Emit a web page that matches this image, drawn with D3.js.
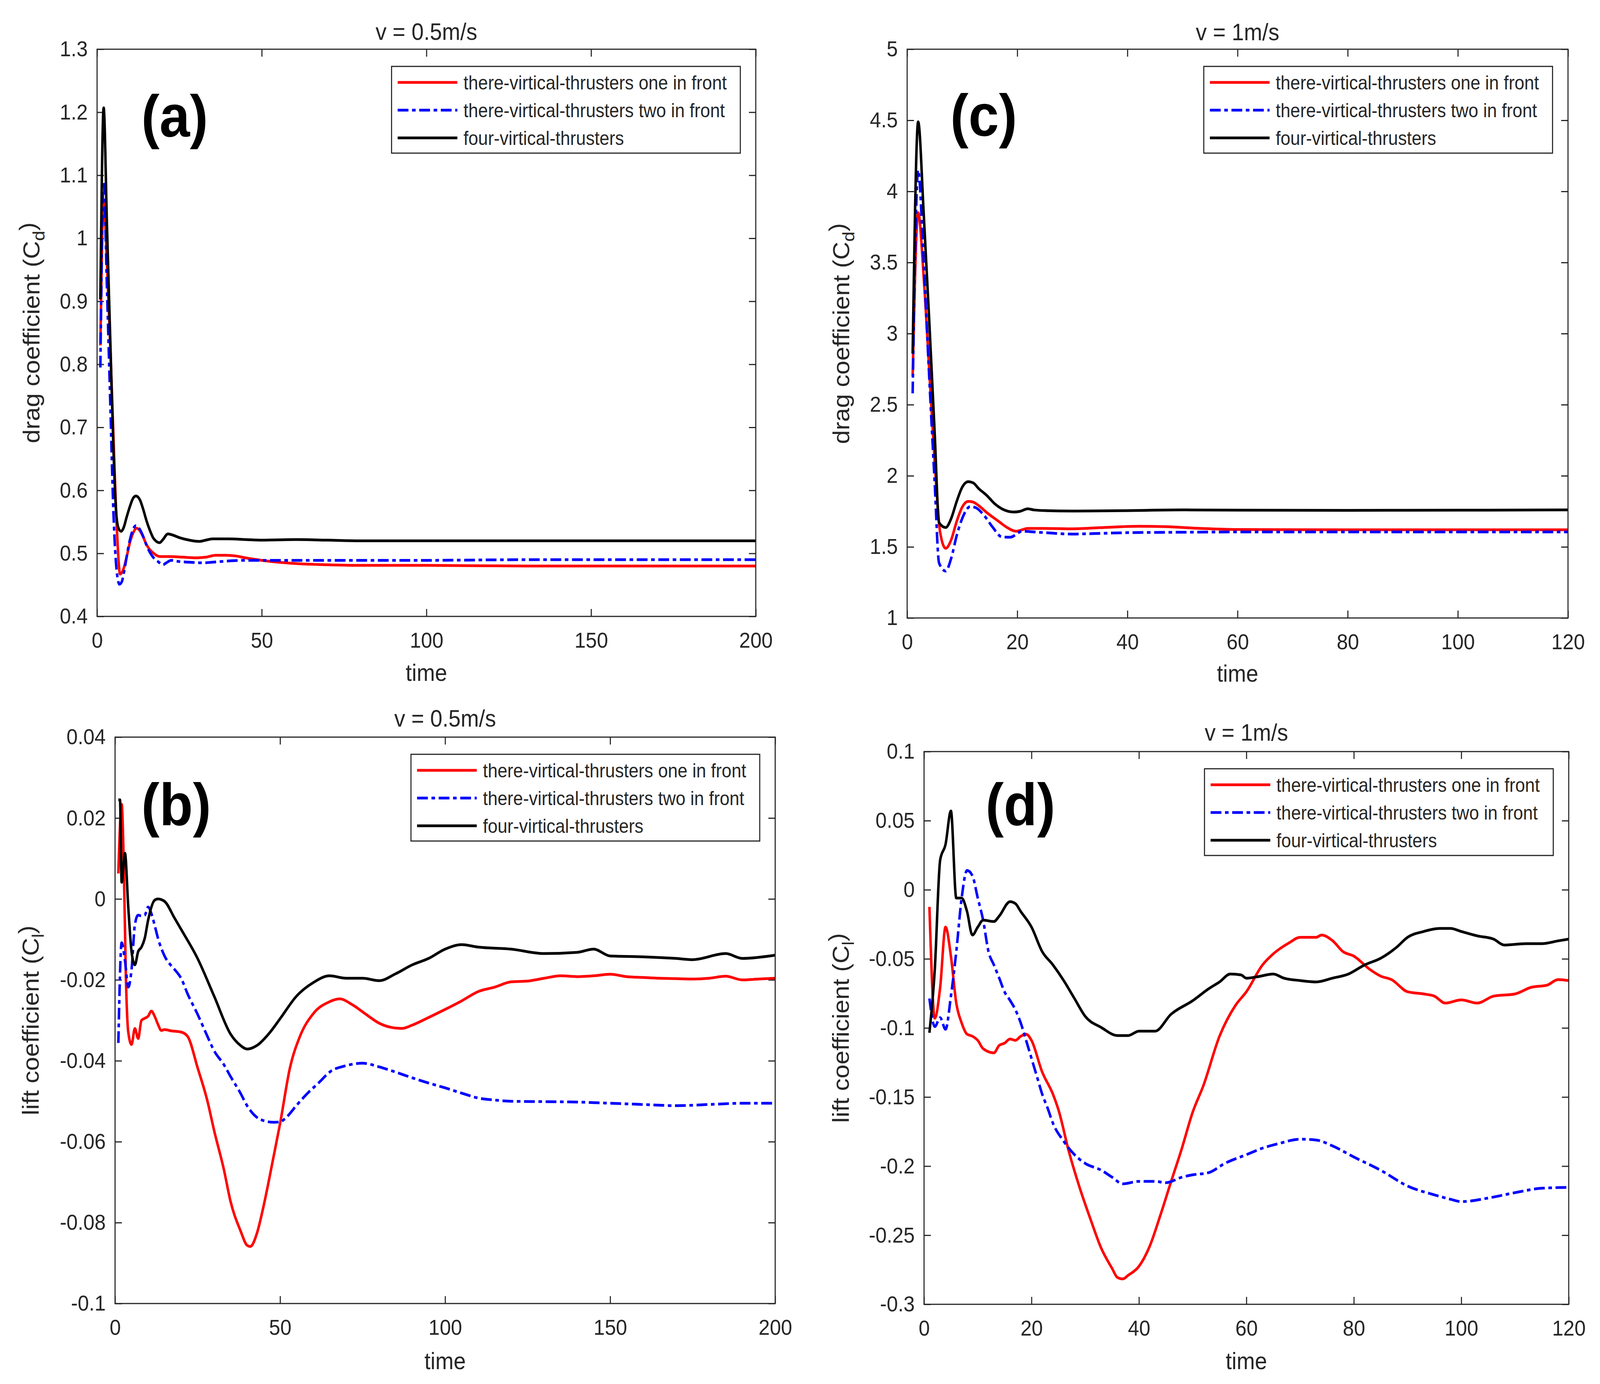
<!DOCTYPE html>
<html>
<head>
<meta charset="utf-8">
<script src="https://cdn.jsdelivr.net/npm/d3@7"></script>
<style>
  html, body { margin: 0; padding: 0; background: #fff; overflow: hidden; }
  #chart { display: block; width: 100vw; height: 100vh; }
  svg text { font-family: "Liberation Sans", Arial, sans-serif; fill: #262626; }
</style>
</head>
<body>
<!-- the window is narrower than 4450, so the 4450x3543 drawing is fitted to it -->
<svg id="chart" viewBox="0 0 4450 3543" preserveAspectRatio="none"></svg>
<script>
// series names used in every legend
const seriesNames = [
    "there-virtical-thrusters one in front",
    "there-virtical-thrusters two in front",
    "four-virtical-thrusters"
];

// tick values
const timeTicksSlow = [0, 50, 100, 150, 200];
const timeTicksFast = [0, 20, 40, 60, 80, 100, 120];
const dragSlowTicks = [0.4, 0.5, 0.6, 0.7, 0.8, 0.9, 1, 1.1, 1.2, 1.3];
const dragFastTicks = [1, 1.5, 2, 2.5, 3, 3.5, 4, 4.5, 5];
const liftSlowTicks = [-0.1, -0.08, -0.06, -0.04, -0.02, 0, 0.02, 0.04];
const liftFastTicks = [-0.3, -0.25, -0.2, -0.15, -0.1, -0.05, 0, 0.05, 0.1];

// (a) drag, v = 0.5 m/s : [time, Cd]
const dragSlowOne = [[1,0.83],[2,1.06],[3,0.96],[4,0.83],[5,0.68],[6,0.54],[7,0.467],[8,0.475],[9,0.495],[10,0.518],[11,0.533],[12,0.54],[13,0.536],[14,0.526],[15,0.514],[16,0.506],[17,0.501],[19,0.495],[22,0.495],[26,0.494],[30,0.493],[33,0.494],[36,0.497],[39,0.497],[42,0.496],[45,0.493],[50,0.489],[55,0.486],[60,0.484],[70,0.482],[80,0.481],[100,0.481],[130,0.480],[160,0.480],[200,0.480]];
const dragSlowTwo = [[1,0.795],[2,1.09],[3,0.92],[4,0.74],[5,0.56],[6,0.47],[6.8,0.451],[7.5,0.455],[8.5,0.48],[9.5,0.51],[10.5,0.532],[11.8,0.544],[13,0.538],[14,0.527],[15,0.513],[16,0.502],[17,0.494],[18.5,0.487],[20,0.482],[21,0.485],[22.5,0.489],[25,0.487],[28,0.486],[32,0.485],[35,0.486],[40,0.488],[45,0.489],[50,0.489],[60,0.489],[80,0.489],[100,0.489],[130,0.490],[160,0.490],[200,0.490]];
const dragSlowFour = [[1,0.903],[2,1.207],[3,1.02],[4,0.84],[5,0.66],[5.8,0.565],[6.5,0.54],[7.3,0.535],[8,0.54],[9,0.558],[10,0.575],[11,0.588],[11.8,0.591],[13,0.585],[14,0.57],[15,0.552],[16,0.537],[17,0.525],[18,0.519],[19,0.517],[20,0.522],[21.5,0.531],[23,0.529],[25,0.525],[28,0.521],[31,0.519],[33,0.521],[35,0.523],[40,0.523],[45,0.522],[50,0.521],[60,0.522],[70,0.521],[80,0.520],[100,0.520],[130,0.520],[160,0.520],[200,0.520]];

// (c) drag, v = 1 m/s
const dragFastOne = [[1,2.7],[2,3.85],[3,3.4],[4,2.75],[5,2.1],[6,1.6],[7,1.49],[8,1.55],[9,1.68],[10,1.78],[11.1,1.82],[12,1.815],[13,1.79],[14.5,1.74],[16.6,1.68],[18,1.64],[19.8,1.61],[21.9,1.63],[25,1.63],[30,1.627],[35,1.635],[42,1.645],[47,1.642],[52,1.632],[60,1.622],[80,1.62],[100,1.62],[120,1.62]];
const dragFastTwo = [[1,2.58],[2,4.15],[3,3.5],[4,2.7],[5,1.95],[5.8,1.386],[7,1.33],[8,1.42],[9,1.58],[10,1.70],[11.5,1.784],[12.5,1.775],[14,1.72],[15.5,1.64],[17.2,1.57],[18.7,1.568],[20.9,1.61],[23,1.605],[25,1.60],[30,1.59],[35,1.595],[40,1.60],[50,1.603],[60,1.605],[80,1.605],[100,1.605],[120,1.605]];
const dragFastFour = [[1,2.86],[2,4.49],[3,3.85],[4,3.1],[5,2.3],[5.8,1.67],[7,1.636],[8,1.7],[9,1.82],[10,1.92],[11.1,1.959],[12,1.95],[13,1.91],[14.4,1.864],[16,1.8],[17.6,1.76],[19.3,1.745],[20.5,1.75],[21.9,1.768],[23,1.76],[25.2,1.755],[30,1.752],[40,1.755],[50,1.76],[60,1.758],[80,1.757],[100,1.758],[120,1.76]];

// (b) lift, v = 0.5 m/s
const liftSlowOne = [[1,0.0063],[2,0.0234],[2.6,0.01],[3.3,-0.02],[4,-0.0329],[5,-0.036],[6,-0.032],[7,-0.0345],[8,-0.030],[9,-0.0295],[10,-0.029],[11,-0.0277],[12,-0.029],[13,-0.031],[14,-0.0325],[15,-0.0323],[17,-0.0326],[20,-0.0329],[22,-0.034],[25,-0.0417],[28,-0.050],[30,-0.0572],[33,-0.067],[35,-0.0748],[38,-0.082],[40,-0.0856],[41,-0.0859],[43,-0.0826],[45,-0.0759],[48,-0.0638],[50,-0.0555],[53,-0.0417],[56,-0.034],[60,-0.0284],[65,-0.0254],[68,-0.0247],[72,-0.0262],[76,-0.0285],[80,-0.0307],[84,-0.0318],[87,-0.032],[90,-0.0312],[95,-0.0293],[100,-0.0273],[105,-0.0252],[110,-0.0229],[115,-0.0218],[120,-0.0205],[125,-0.0203],[130,-0.0196],[135,-0.019],[140,-0.0192],[145,-0.019],[150,-0.0186],[155,-0.0192],[160,-0.0194],[165,-0.0196],[170,-0.0197],[175,-0.0198],[180,-0.0196],[185,-0.0191],[190,-0.020],[195,-0.0198],[200,-0.0196]];
const liftSlowTwo = [[1,-0.0356],[2,-0.0108],[3,-0.0152],[4,-0.0218],[5,-0.0174],[6,-0.0064],[7,-0.004],[8,-0.0042],[9,-0.004],[10,-0.002],[11,-0.0036],[12,-0.0065],[13,-0.0097],[15,-0.0141],[17,-0.0165],[18,-0.0174],[20,-0.0196],[22,-0.0235],[25,-0.0285],[28,-0.034],[30,-0.0375],[33,-0.041],[35,-0.0439],[38,-0.048],[40,-0.0511],[43,-0.054],[45,-0.0548],[48,-0.0552],[50,-0.0551],[52,-0.0539],[55,-0.051],[58,-0.0483],[62,-0.0452],[65,-0.0428],[70,-0.0412],[75,-0.0406],[80,-0.0415],[85,-0.0428],[90,-0.0442],[95,-0.0455],[100,-0.0467],[105,-0.048],[110,-0.0492],[115,-0.0497],[120,-0.05],[130,-0.0501],[140,-0.0502],[150,-0.0505],[160,-0.0508],[170,-0.0511],[180,-0.0508],[190,-0.0505],[200,-0.0505]];
const liftSlowFour = [[1,0.0245],[1.5,0.0245],[2,0.0041],[3,0.0113],[4,-0.002],[5,-0.013],[6,-0.0163],[7,-0.013],[8,-0.0119],[9,-0.0097],[10,-0.0053],[12,-0.0003],[13,0.0],[15,-0.0006],[18,-0.0047],[20,-0.0075],[25,-0.0147],[30,-0.024],[35,-0.0334],[38,-0.0362],[40,-0.0371],[43,-0.0362],[47,-0.0329],[50,-0.0296],[55,-0.024],[60,-0.0207],[65,-0.019],[70,-0.0196],[75,-0.0196],[80,-0.0202],[85,-0.0185],[90,-0.0163],[95,-0.0147],[100,-0.0124],[105,-0.0113],[110,-0.0119],[120,-0.0124],[130,-0.0135],[140,-0.0132],[145,-0.0124],[150,-0.0141],[160,-0.0143],[170,-0.0147],[175,-0.015],[185,-0.0135],[190,-0.0147],[200,-0.0139]];

// (d) lift, v = 1 m/s
const liftFastOne = [[1,-0.0124],[2,-0.093],[3,-0.0706],[4,-0.027],[5,-0.048],[6,-0.082],[7,-0.0964],[8,-0.1045],[9,-0.106],[10,-0.109],[11,-0.115],[13,-0.118],[14,-0.1126],[15,-0.111],[16,-0.108],[17,-0.109],[18,-0.106],[19,-0.1045],[20,-0.109],[22,-0.132],[24,-0.148],[25,-0.159],[27,-0.19],[29,-0.216],[31,-0.2386],[33,-0.2596],[35,-0.274],[36,-0.2806],[37,-0.2816],[38,-0.279],[40,-0.2725],[42,-0.258],[44,-0.2354],[46,-0.211],[48,-0.187],[50,-0.161],[52,-0.1417],[55,-0.106],[58,-0.0835],[60,-0.0738],[63,-0.0544],[65,-0.0464],[68,-0.0383],[70,-0.0344],[73,-0.0344],[74,-0.0328],[76,-0.0367],[78,-0.0448],[80,-0.048],[83,-0.0577],[85,-0.0625],[87,-0.065],[90,-0.0738],[93,-0.0754],[95,-0.077],[97,-0.082],[100,-0.0797],[103,-0.082],[106,-0.077],[110,-0.0754],[113,-0.0706],[116,-0.069],[118,-0.065],[120,-0.0657]];
const liftFastTwo = [[1,-0.0787],[2,-0.099],[3,-0.0926],[4,-0.101],[5,-0.077],[6,-0.0448],[7,-0.006],[8,0.014],[9,0.0102],[10,-0.006],[11,-0.022],[12,-0.0448],[13,-0.0544],[14,-0.064],[15,-0.074],[16,-0.080],[17,-0.0868],[18,-0.0964],[19,-0.109],[20,-0.122],[21,-0.135],[22,-0.148],[23,-0.158],[24,-0.169],[26,-0.182],[28,-0.1917],[30,-0.198],[33,-0.203],[35,-0.208],[37,-0.2128],[40,-0.211],[43,-0.211],[45,-0.212],[48,-0.208],[50,-0.2063],[53,-0.2047],[56,-0.198],[60,-0.1917],[63,-0.187],[66,-0.1837],[70,-0.1805],[73,-0.1811],[76,-0.1853],[80,-0.1934],[85,-0.203],[90,-0.2144],[95,-0.2208],[98,-0.224],[100,-0.2257],[105,-0.2231],[110,-0.2192],[115,-0.216],[120,-0.2154]];
const liftFastFour = [[1,-0.1035],[2,-0.0577],[3,0.0215],[4,0.0328],[5,0.057],[6,-0.006],[7,-0.006],[8,-0.0157],[9,-0.0328],[10,-0.027],[11,-0.022],[13,-0.023],[14,-0.019],[16,-0.0086],[17,-0.01],[18,-0.0157],[20,-0.027],[22,-0.0448],[24,-0.0544],[26,-0.0657],[28,-0.0787],[30,-0.0916],[33,-0.0997],[36,-0.1055],[38,-0.1055],[40,-0.1023],[43,-0.1023],[46,-0.090],[50,-0.0803],[53,-0.0716],[55,-0.0667],[57,-0.061],[59,-0.0616],[60,-0.064],[62,-0.063],[65,-0.061],[67,-0.064],[70,-0.0657],[73,-0.0667],[76,-0.064],[79,-0.061],[82,-0.0544],[85,-0.0496],[88,-0.0415],[90,-0.0344],[93,-0.0302],[96,-0.028],[98,-0.028],[100,-0.0302],[103,-0.0334],[106,-0.0357],[108,-0.040],[112,-0.039],[115,-0.039],[118,-0.037],[120,-0.0357]];

// line styles for the three series
const styles = [
    { color: "#ff0000", dash: null },
    { color: "#0000ff", dash: "30,10,10,10" },
    { color: "#000000", dash: null }
];

const axisColor = "#262626";

const panels = [
    { tag: "(a)", title: "v = 0.5m/s", ylab: "drag coefficient (C", sub: "d",
      box: { left: 270, top: 126, right: 2102, bottom: 1578 },
      xDomain: [0, 200], yDomain: [0.4, 1.3], xTicks: timeTicksSlow, yTicks: dragSlowTicks,
      series: [dragSlowOne, dragSlowTwo, dragSlowFour],
      tagX: 393, tagY: 350, titleY: 102, xlabY: 1743, ylabX: 110 },
    { tag: "(c)", title: "v = 1m/s", ylab: "drag coefficient (C", sub: "d",
      box: { left: 2523, top: 126, right: 4361, bottom: 1582 },
      xDomain: [0, 120], yDomain: [1, 5], xTicks: timeTicksFast, yTicks: dragFastTicks,
      series: [dragFastOne, dragFastTwo, dragFastFour],
      tagX: 2643, tagY: 348, titleY: 103, xlabY: 1745, ylabX: 2362 },
    { tag: "(b)", title: "v = 0.5m/s", ylab: "lift coefficient (C", sub: "l",
      box: { left: 320, top: 1887, right: 2156, bottom: 3337 },
      xDomain: [0, 200], yDomain: [-0.1, 0.04], xTicks: timeTicksSlow, yTicks: liftSlowTicks,
      series: [liftSlowOne, liftSlowTwo, liftSlowFour],
      tagX: 393, tagY: 2112, titleY: 1860, xlabY: 3505, ylabX: 108 },
    { tag: "(d)", title: "v = 1m/s", ylab: "lift coefficient (C", sub: "l",
      box: { left: 2570, top: 1924, right: 4363, bottom: 3339 },
      xDomain: [0, 120], yDomain: [-0.3, 0.1], xTicks: timeTicksFast, yTicks: liftFastTicks,
      series: [liftFastOne, liftFastTwo, liftFastFour],
      tagX: 2741, tagY: 2112, titleY: 1896, xlabY: 3505, ylabX: 2361 }
];

const svg = d3.select("#chart");
svg.append("rect").attr("width", 4450).attr("height", 3543).attr("fill", "#fff");

const fmt = d => String(+d.toFixed(3));

panels.forEach((p, i) => drawPanel(p, i));

function styleAxis(g, fontSize) {
    g.attr("color", axisColor)
        .attr("font-size", fontSize)
        .attr("font-family", "'Liberation Sans', Arial, sans-serif");
    g.select(".domain").remove();
    g.selectAll(".tick line").attr("stroke-width", 3);
}

function drawPanel(p, idx) {
    const b = p.box;
    const w = b.right - b.left;
    const h = b.bottom - b.top;

    const g = svg.append("g").attr("transform", `translate(${b.left},${b.top})`);

    const x = d3.scaleLinear().domain(p.xDomain).range([0, w]);
    const y = d3.scaleLinear().domain(p.yDomain).range([h, 0]);

    // axes, ticks inward on all four sides
    g.append("g")
        .attr("transform", `translate(0,${h})`)
        .call(d3.axisBottom(x).tickValues(p.xTicks).tickSizeInner(-19).tickSizeOuter(0).tickPadding(40).tickFormat(fmt))
        .call(a => styleAxis(a, 56));
    g.append("g")
        .call(d3.axisLeft(y).tickValues(p.yTicks).tickSizeInner(-19).tickSizeOuter(0).tickPadding(26).tickFormat(fmt))
        .call(a => styleAxis(a, 56));
    g.append("g")
        .call(d3.axisTop(x).tickValues(p.xTicks).tickSizeInner(-19).tickSizeOuter(0).tickFormat(() => ""))
        .call(a => styleAxis(a, 56));
    g.append("g")
        .attr("transform", `translate(${w},0)`)
        .call(d3.axisRight(y).tickValues(p.yTicks).tickSizeInner(-19).tickSizeOuter(0).tickFormat(() => ""))
        .call(a => styleAxis(a, 56));

    // clip for the curves
    const clipId = "clip" + idx;
    g.append("clipPath").attr("id", clipId)
        .append("rect").attr("width", w).attr("height", h);

    const line = d3.line()
        .x(d => x(d[0]))
        .y(d => y(d[1]))
        .curve(d3.curveMonotoneX);

    const curves = g.append("g").attr("clip-path", `url(#${clipId})`);
    p.series.forEach((s, k) => {
        curves.append("path")
            .datum(s)
            .attr("d", line)
            .attr("fill", "none")
            .attr("stroke", styles[k].color)
            .attr("stroke-width", 7)
            .attr("stroke-linejoin", "round")
            .attr("stroke-dasharray", styles[k].dash);
    });

    // frame
    g.append("rect")
        .attr("width", w).attr("height", h)
        .attr("fill", "none")
        .attr("stroke", axisColor)
        .attr("stroke-width", 3);

    // legend
    const lw = 970, lh = 222;
    const lx = w - 43 - lw, ly = 44;
    const leg = g.append("g").attr("transform", `translate(${lx},${ly})`);
    leg.append("rect")
        .attr("width", lw).attr("height", lh)
        .attr("fill", "#fff")
        .attr("stroke", axisColor)
        .attr("stroke-width", 3);
    const rows = [41, 112, 183];
    seriesNames.forEach((name, k) => {
        leg.append("line")
            .attr("x1", 17).attr("x2", 183)
            .attr("y1", rows[k]).attr("y2", rows[k])
            .attr("stroke", styles[k].color)
            .attr("stroke-width", 7)
            .attr("stroke-dasharray", styles[k].dash);
        leg.append("text")
            .attr("x", 200).attr("y", rows[k])
            .attr("dy", "0.36em")
            .attr("font-size", 49)
            .text(name);
    });

    // title
    svg.append("text")
        .attr("x", b.left + w / 2).attr("y", p.titleY)
        .attr("text-anchor", "middle")
        .attr("font-size", 61)
        .text(p.title);

    // x label
    svg.append("text")
        .attr("x", b.left + w / 2).attr("y", p.xlabY)
        .attr("text-anchor", "middle")
        .attr("font-size", 61)
        .text("time");

    // y label with subscript
    const yl = svg.append("text")
        .attr("transform", `translate(${p.ylabX},${b.top + h / 2}) rotate(-90)`)
        .attr("text-anchor", "middle")
        .attr("font-size", 64);
    yl.append("tspan").text(p.ylab);
    yl.append("tspan").attr("dy", "0.3em").attr("font-size", 47).text(p.sub);
    yl.append("tspan").attr("dy", "-0.4em").text(")");

    // panel tag
    svg.append("text")
        .attr("x", p.tagX).attr("y", p.tagY)
        .attr("font-size", 152)
        .attr("font-weight", "bold")
        .style("fill", "#000")
        .text(p.tag);
}
</script>
</body>
</html>
